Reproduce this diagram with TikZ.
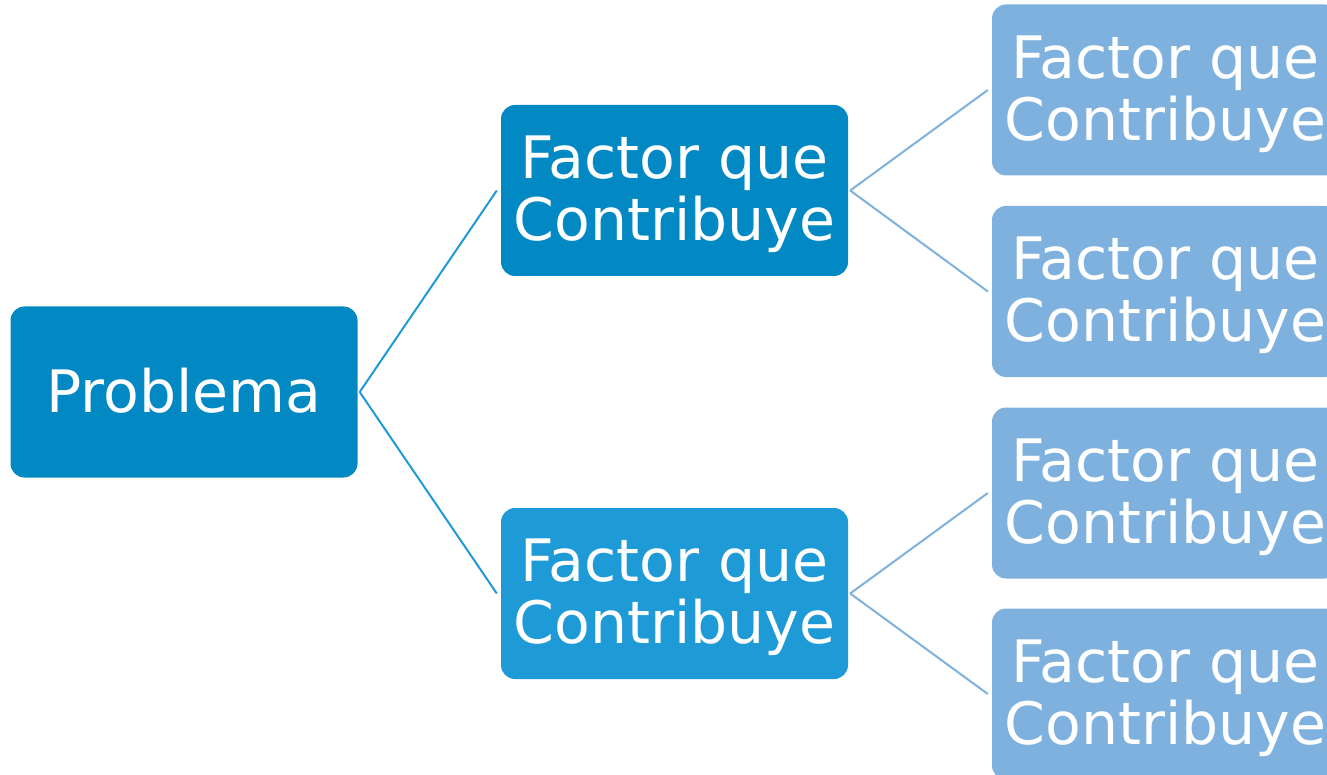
\documentclass[tikz,border=0pt]{standalone}
\usepackage{fontspec}
\setmainfont{DejaVu Sans}
\definecolor{darkblue}{HTML}{0288C2}
\definecolor{midblue}{HTML}{1E9AD6}
\definecolor{lightblue}{HTML}{7FB1DE}
\tikzset{
  box/.style={rectangle, rounded corners=14pt, minimum width=347pt, minimum height=171pt,
    inner sep=0pt, align=center, text=white, text depth=4pt,
    font=\fontsize{58.5pt}{62pt}\selectfont},
  link/.style={line width=2pt}
}
\begin{document}
\begin{tikzpicture}[x=1pt,y=-1pt]
  \useasboundingbox (0,0) rectangle (1327,775);
  \clip (0,0) rectangle (1327,775);
  % root
  \node[box, fill=darkblue] (p) at (184,392) {Problema};
  % second level
  \node[box, fill=darkblue] (m1) at (674.5,190.5) {Factor que\\Contribuye};
  \node[box, fill=midblue] (m2) at (674.5,593.5) {Factor que\\Contribuye};
  % third level
  \node[box, fill=lightblue] (r1) at (1165.5,90) {Factor que\\Contribuye};
  \node[box, fill=lightblue] (r2) at (1165.5,291.5) {Factor que\\Contribuye};
  \node[box, fill=lightblue] (r3) at (1165.5,493) {Factor que\\Contribuye};
  \node[box, fill=lightblue] (r4) at (1165.5,694) {Factor que\\Contribuye};
  % connectors
  \draw[link, midblue] ([xshift=2pt]p.east) -- ([xshift=-4pt]m1.west);
  \draw[link, midblue] ([xshift=2pt]p.east) -- ([xshift=-4pt]m2.west);
  \draw[link, lightblue] ([xshift=2pt]m1.east) -- ([xshift=-4pt]r1.west);
  \draw[link, lightblue] ([xshift=2pt]m1.east) -- ([xshift=-4pt]r2.west);
  \draw[link, lightblue] ([xshift=2pt]m2.east) -- ([xshift=-4pt]r3.west);
  \draw[link, lightblue] ([xshift=2pt]m2.east) -- ([xshift=-4pt]r4.west);
\end{tikzpicture}
\end{document}
